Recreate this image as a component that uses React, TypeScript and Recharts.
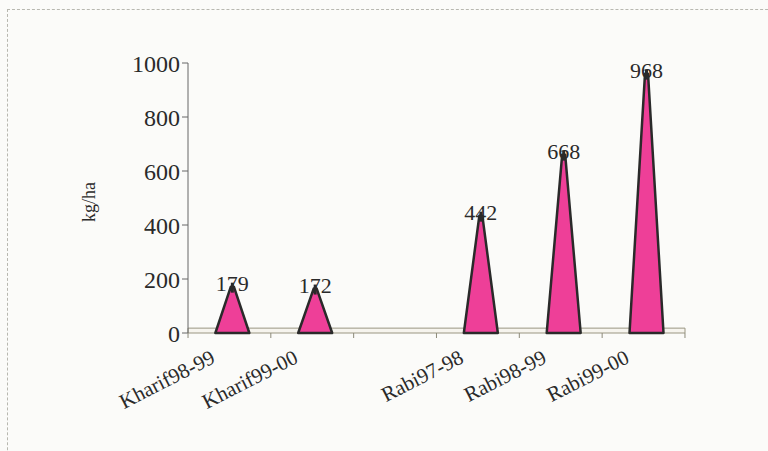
import React from "react"
import { Bar, BarChart, LabelList, ReferenceArea, XAxis, YAxis } from "recharts"

const seasons = ["Kharif98-99", "Kharif99-00", "", "Rabi97-98", "Rabi98-99", "Rabi99-00"]
const yields = [179, 172, null, 442, 668, 968]
const yTicks = [0, 200, 400, 600, 800, 1000]

const data = seasons.map((name, i) => ({ name, value: yields[i] }))

const serif = "'Liberation Serif', 'Times New Roman', serif"
const ink = "#2a2a2a"

const Cone = (props: any) => {
  const { x, y, width, height } = props
  if (props.value == null || !height) return null
  const cx = x + width / 2 + 3
  const half = 17
  const base = y + height
  return (
    <g>
      <path
        d={`M${cx - half},${base} L${cx - 1.5},${y + 2} L${cx + 1.5},${y + 2} L${cx + half},${base} Z`}
        fill="#ee3f98"
        stroke={ink}
        strokeWidth={2.5}
        strokeLinejoin="round"
      />
      <line x1={cx} y1={y - 2} x2={cx} y2={y + 8} stroke={ink} strokeWidth={3} />
    </g>
  )
}

const ValueLabel = (props: any) => {
  const { x, y, width, value } = props
  if (value == null) return null
  return (
    <text x={x + width / 2 + 3} y={y + 6} textAnchor="middle" fontFamily={serif} fontSize={22} fill={ink}>
      {value}
    </text>
  )
}

const SeasonTick = (props: any) => {
  const { x, y, payload, index } = props
  const half = 41.4
  const tx = x - 13
  const ty = y + 21
  return (
    <g>
      {index === 0 && <line x1={x - half} y1={y - 8} x2={x - half} y2={y - 3} stroke="#8c8a7a" />}
      <line x1={x + half} y1={y - 8} x2={x + half} y2={y - 3} stroke="#8c8a7a" />
      {payload.value && (
        <text
          x={tx}
          y={ty}
          textAnchor="end"
          transform={`rotate(-27 ${tx} ${ty})`}
          fontFamily={serif}
          fontSize={21}
          fill={ink}
        >
          {payload.value}
        </text>
      )}
    </g>
  )
}

const AxisTitle = (props: any) => {
  const { viewBox } = props
  const x = viewBox.x - 23
  const y = viewBox.y + viewBox.height / 2 + 4
  return (
    <text x={x} y={y} transform={`rotate(-90 ${x} ${y})`} textAnchor="middle" fontFamily={serif} fontSize={18} fill={ink}>
      kg/ha
    </text>
  )
}

export default function App() {
  return (
    <div style={{ position: "absolute", left: 0, top: 0, width: 768, height: 451, background: "#fbfbf9", overflow: "hidden" }}>
      <div
        style={{
          position: "absolute",
          left: 7,
          top: 9,
          width: 800,
          height: 500,
          borderTop: "1px dashed #b8b8b0",
          borderLeft: "1px dashed #b8b8b0",
        }}
      />
      <BarChart
        width={768}
        height={451}
        data={data}
        margin={{ top: 63, right: 83, bottom: 18, left: 118 }}
        barCategoryGap="30%"
        style={{ position: "absolute", left: 0, top: 0 }}
      >
        <ReferenceArea y1={0} y2={18} fill="#f1eee3" stroke="#9a9682" strokeWidth={1} ifOverflow="extendDomain" />
        <XAxis
          dataKey="name"
          height={100}
          axisLine={false}
          tickLine={false}
          interval={0}
          tick={<SeasonTick />}
        />
        <YAxis
          domain={[0, 1000]}
          ticks={yTicks}
          width={70}
          axisLine={{ stroke: "#666" }}
          tickLine={{ stroke: "#666" }}
          tickSize={6}
          tick={{ fontFamily: serif, fontSize: 24, fill: ink }}
          label={<AxisTitle />}
        />
        <Bar dataKey="value" shape={<Cone />} isAnimationActive={false}>
          <LabelList dataKey="value" content={<ValueLabel />} />
        </Bar>
      </BarChart>
    </div>
  )
}
